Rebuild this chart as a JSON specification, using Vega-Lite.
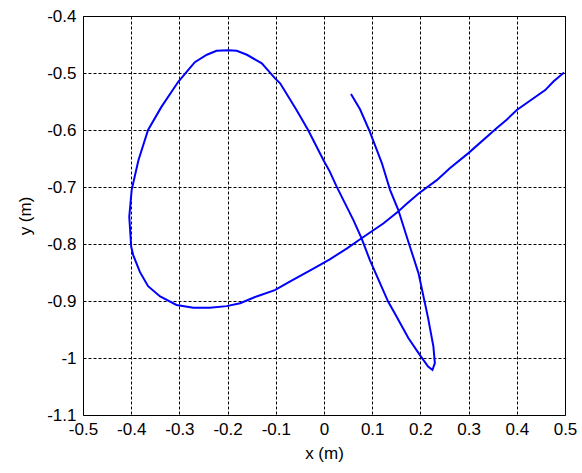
{
  "$schema": "https://vega.github.io/schema/vega-lite/v6.json",
  "width": 482,
  "height": 399,
  "autosize": {"type": "none"},
  "padding": {"left": 83, "top": 16, "right": 17, "bottom": 58},
  "background": "white",
  "config": {
    "view": {"stroke": "black", "strokeWidth": 1},
    "font": "Liberation Sans"
  },
  "data": {
    "values": [
      {"i": 1, "x": 0.056, "y": -0.537},
      {"i": 2, "x": 0.075, "y": -0.564},
      {"i": 3, "x": 0.095, "y": -0.603},
      {"i": 4, "x": 0.120, "y": -0.658},
      {"i": 5, "x": 0.137, "y": -0.705},
      {"i": 6, "x": 0.154, "y": -0.740},
      {"i": 7, "x": 0.175, "y": -0.796},
      {"i": 8, "x": 0.196, "y": -0.851},
      {"i": 9, "x": 0.216, "y": -0.930},
      {"i": 10, "x": 0.227, "y": -0.980},
      {"i": 11, "x": 0.230, "y": -1.009},
      {"i": 12, "x": 0.225, "y": -1.021},
      {"i": 13, "x": 0.216, "y": -1.015},
      {"i": 14, "x": 0.199, "y": -0.995},
      {"i": 15, "x": 0.175, "y": -0.965},
      {"i": 16, "x": 0.147, "y": -0.922},
      {"i": 17, "x": 0.133, "y": -0.901},
      {"i": 18, "x": 0.095, "y": -0.828},
      {"i": 19, "x": 0.078, "y": -0.790},
      {"i": 20, "x": 0.061, "y": -0.758},
      {"i": 21, "x": 0.026, "y": -0.699},
      {"i": 22, "x": 0.012, "y": -0.673},
      {"i": 23, "x": -0.001, "y": -0.653},
      {"i": 24, "x": -0.033, "y": -0.600},
      {"i": 25, "x": -0.057, "y": -0.565},
      {"i": 26, "x": -0.091, "y": -0.518},
      {"i": 27, "x": -0.102, "y": -0.509},
      {"i": 28, "x": -0.129, "y": -0.483},
      {"i": 29, "x": -0.160, "y": -0.468},
      {"i": 30, "x": -0.181, "y": -0.461},
      {"i": 31, "x": -0.198, "y": -0.460},
      {"i": 32, "x": -0.223, "y": -0.461},
      {"i": 33, "x": -0.243, "y": -0.468},
      {"i": 34, "x": -0.268, "y": -0.481},
      {"i": 35, "x": -0.285, "y": -0.498},
      {"i": 36, "x": -0.302, "y": -0.515},
      {"i": 37, "x": -0.337, "y": -0.559},
      {"i": 38, "x": -0.365, "y": -0.600},
      {"i": 39, "x": -0.385, "y": -0.653},
      {"i": 40, "x": -0.399, "y": -0.705},
      {"i": 41, "x": -0.404, "y": -0.752},
      {"i": 42, "x": -0.400, "y": -0.805},
      {"i": 43, "x": -0.396, "y": -0.819},
      {"i": 44, "x": -0.382, "y": -0.849},
      {"i": 45, "x": -0.365, "y": -0.874},
      {"i": 46, "x": -0.340, "y": -0.892},
      {"i": 47, "x": -0.306, "y": -0.907},
      {"i": 48, "x": -0.271, "y": -0.912},
      {"i": 49, "x": -0.237, "y": -0.912},
      {"i": 50, "x": -0.202, "y": -0.909},
      {"i": 51, "x": -0.174, "y": -0.904},
      {"i": 52, "x": -0.140, "y": -0.892},
      {"i": 53, "x": -0.102, "y": -0.881},
      {"i": 54, "x": -0.071, "y": -0.866},
      {"i": 55, "x": -0.022, "y": -0.843},
      {"i": 56, "x": 0.012, "y": -0.827},
      {"i": 57, "x": 0.047, "y": -0.808},
      {"i": 58, "x": 0.078, "y": -0.790},
      {"i": 59, "x": 0.123, "y": -0.764},
      {"i": 60, "x": 0.154, "y": -0.743},
      {"i": 61, "x": 0.171, "y": -0.730},
      {"i": 62, "x": 0.197, "y": -0.711},
      {"i": 63, "x": 0.234, "y": -0.688},
      {"i": 64, "x": 0.261, "y": -0.667},
      {"i": 65, "x": 0.299, "y": -0.641},
      {"i": 66, "x": 0.358, "y": -0.597},
      {"i": 67, "x": 0.379, "y": -0.582},
      {"i": 68, "x": 0.400, "y": -0.565},
      {"i": 69, "x": 0.459, "y": -0.530},
      {"i": 70, "x": 0.476, "y": -0.515},
      {"i": 71, "x": 0.498, "y": -0.499}
    ]
  },
  "mark": {"type": "line", "color": "#0000ff", "strokeWidth": 2, "clip": true},
  "encoding": {
    "order": {"field": "i", "type": "quantitative"},
    "x": {
      "field": "x",
      "type": "quantitative",
      "scale": {"domain": [-0.5, 0.5], "nice": false, "zero": false},
      "axis": {
        "title": "x (m)",
        "values": [-0.5, -0.4, -0.3, -0.2, -0.1, 0, 0.1, 0.2, 0.3, 0.4, 0.5],
        "labelExpr": "replace(format(datum.value, '~g'), '\u2212', '-')",
        "domain": false,
        "ticks": false,
        "grid": true,
        "gridColor": "black",
        "gridOpacity": 1,
        "gridDash": [3, 2],
        "gridWidth": 1,
        "labelFont": "Liberation Sans",
        "labelFontSize": 17,
        "labelColor": "black",
        "titleFont": "Liberation Sans",
        "titleFontSize": 17,
        "titleFontWeight": "normal",
        "titleColor": "black",
        "labelPadding": 6,
        "titlePadding": 8,
        "labelFlush": false,
        "labelOverlap": false
      }
    },
    "y": {
      "field": "y",
      "type": "quantitative",
      "scale": {"domain": [-1.1, -0.4], "nice": false, "zero": false},
      "axis": {
        "title": "y (m)",
        "values": [-1.1, -1, -0.9, -0.8, -0.7, -0.6, -0.5, -0.4],
        "labelExpr": "replace(format(datum.value, '~g'), '\u2212', '-')",
        "domain": false,
        "ticks": false,
        "grid": true,
        "gridColor": "black",
        "gridOpacity": 1,
        "gridDash": [3, 2],
        "gridWidth": 1,
        "labelFont": "Liberation Sans",
        "labelFontSize": 17,
        "labelColor": "black",
        "titleFont": "Liberation Sans",
        "titleFontSize": 17,
        "titleFontWeight": "normal",
        "titleColor": "black",
        "labelPadding": 7,
        "titlePadding": 12,
        "labelFlush": false,
        "labelOverlap": false
      }
    }
  }
}
